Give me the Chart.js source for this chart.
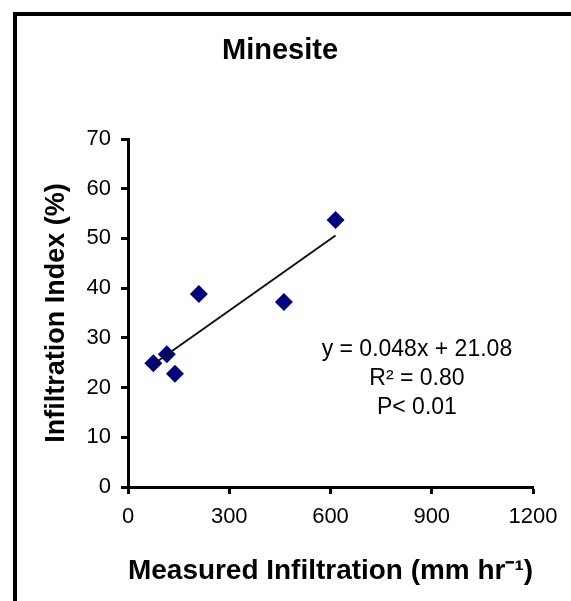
<!DOCTYPE html>
<html>
<head>
<meta charset="utf-8">
<script src="https://cdn.jsdelivr.net/npm/chart.js@4/dist/chart.umd.min.js"></script>
<style>
  html, body { margin: 0; padding: 0; background: #fff; }
  #wrap { position: relative; width: 571px; height: 601px; }
</style>
</head>
<body>
<div id="wrap"><canvas id="chart" width="571" height="601"></canvas></div>
<script>
// values
const measured = [75, 115, 139, 210, 462, 615];
const infIndex = [24.9, 26.7, 22.8, 38.8, 37.2, 53.7];
const trendX = [75, 615];
const trendY = [24.7, 50.6];
const xTicks = [0, 300, 600, 900, 1200];
const yTicks = [0, 10, 20, 30, 40, 50, 60, 70];
const statLines = ['y = 0.048x + 21.08', 'R\u00B2 = 0.80', 'P< 0.01'];
const statAnchor = [856, 27.6];

Chart.defaults.font.family = '"Liberation Sans", Arial, sans-serif';
Chart.defaults.color = '#000';

// white page + the black frame round the chart
const framePlugin = {
    id: 'frame',
    beforeDraw(chart) {
        const ctx = chart.ctx;
        ctx.save();
        ctx.fillStyle = '#fff';
        ctx.fillRect(0, 0, chart.width, chart.height);
        ctx.fillStyle = '#000';
        ctx.fillRect(13, 12, 4, chart.height);
        ctx.fillRect(13, 12, chart.width, 4);
        ctx.restore();
    }
};

// regression text
const statsPlugin = {
    id: 'stats',
    afterDatasetsDraw(chart) {
        const ctx = chart.ctx;
        const x = chart.scales.x.getPixelForValue(statAnchor[0]);
        const y = chart.scales.y.getPixelForValue(statAnchor[1]);
        ctx.save();
        ctx.font = '23px "Liberation Sans", Arial, sans-serif';
        ctx.fillStyle = '#000';
        ctx.textAlign = 'center';
        ctx.textBaseline = 'middle';
        statLines.forEach((t, i) => ctx.fillText(t, x, y + i * 29));
        ctx.restore();
    }
};

const ctx = document.getElementById('chart').getContext('2d');
new Chart(ctx, {
    type: 'scatter',
    data: {
        datasets: [{
            data: trendX.map((v, i) => ({ x: v, y: trendY[i] })),
            showLine: true,
            borderColor: '#111',
            borderWidth: 2,
            pointRadius: 0
        }, {
            data: measured.map((v, i) => ({ x: v, y: infIndex[i] })),
            pointStyle: 'rectRot',
            pointRadius: 9,
            backgroundColor: '#000080',
            borderColor: '#000080',
            borderWidth: 0
        }]
    },
    options: {
        responsive: false,
        animation: false,
        layout: { padding: { left: 27, right: 38, top: 0, bottom: 0 } },
        plugins: {
            legend: { display: false },
            tooltip: { enabled: false },
            title: {
                display: true,
                text: 'Minesite',
                color: '#000',
                font: { size: 29, weight: 'bold' },
                padding: { top: 34, bottom: 70.2 }
            }
        },
        scales: {
            x: {
                type: 'linear',
                min: xTicks[0],
                max: xTicks[xTicks.length - 1],
                afterBuildTicks: s => { s.ticks = xTicks.map(v => ({ value: v })); },
                afterFit: s => { s.height = 114; },
                ticks: { font: { size: 22 }, color: '#000', padding: 10, maxRotation: 0, callback: v => String(v) },
                grid: { drawOnChartArea: false, tickLength: 7, tickWidth: 3, tickColor: '#000' },
                border: { color: '#000', width: 3 },
                title: {
                    display: true,
                    text: 'Measured Infiltration (mm hr\u207B\u00B9)',
                    color: '#000',
                    font: { size: 28, weight: 'bold' },
                    padding: { top: 0, bottom: 13 }
                }
            },
            y: {
                min: yTicks[0],
                max: yTicks[yTicks.length - 1],
                afterBuildTicks: s => { s.ticks = yTicks.map(v => ({ value: v })); },
                afterFit: s => { s.width = 101; },
                ticks: { font: { size: 22 }, color: '#000', padding: 10, callback: v => String(v) },
                grid: { drawOnChartArea: false, tickLength: 7, tickWidth: 3, tickColor: '#000' },
                border: { color: '#000', width: 3 },
                title: {
                    display: true,
                    text: 'Infiltration Index (%)',
                    color: '#000',
                    font: { size: 27, weight: 'bold' },
                    padding: { top: 13, bottom: 0 }
                }
            }
        }
    },
    plugins: [framePlugin, statsPlugin]
});
</script>
</body>
</html>
